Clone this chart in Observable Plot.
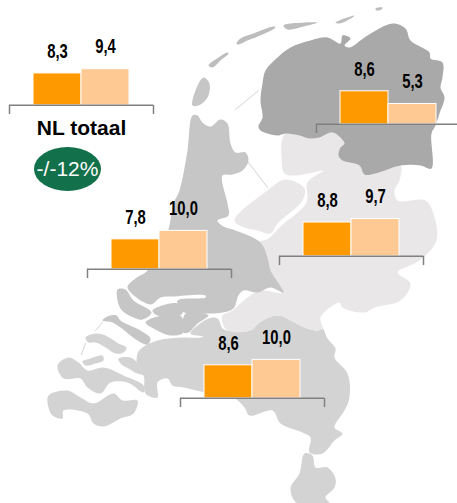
<!DOCTYPE html>
<html>
<head>
<meta charset="utf-8">
<script src="https://cdn.jsdelivr.net/npm/d3@7"></script>
<script src="https://cdn.jsdelivr.net/npm/@observablehq/plot@0.6"></script>
<style>
html,body{margin:0;padding:0;background:#fff;overflow:hidden}
#stage{position:relative;width:457px;height:503px;overflow:hidden;font-family:"Liberation Sans",Arial,sans-serif}
#stage>svg{position:absolute}
#badge{position:absolute;left:34px;top:147px;width:67px;height:44px;border-radius:50%;background:#12704a;color:#fff;font-size:21px;display:flex;align-items:center;justify-content:center;white-space:nowrap}
</style>
</head>
<body>
<div id="stage"></div>
<script>
// Bar values: [first series, second series]
const seriesNames = ["serie 1", "serie 2"];
const seriesColors = ["#ff9900", "#ffc993"];
const regionNames = ["NL totaal", "Noord", "Oost", "West", "Zuid"];
const valuesFirst  = [8.3, 8.6, 8.8, 7.8, 8.6];
const valuesSecond = [9.4, 5.3, 9.7, 10.0, 10.0];
const panelLeft = [9, 316, 279, 87, 180];
const panelBaseline = [105, 124, 256, 269, 398];
const badgeText = "-/-12%";

// Background map outlines
const colNoord = "#a9a9a9", colOost = "#e9e7e8", colWest = "#c6c6c6", colZuid = "#d3d3d3", colWad = "#bdbdbd";
const outlines = [
 [colZuid,[[217,318],[222,328],[227,330],[250,330],[259,322],[277,315],[304,327],[317,330],[322,328],[327,338],[335,348],[334,357],[347,373],[349,397],[344,410],[334,427],[342,433],[334,440],[322,453],[309,452],[310,437],[302,432],[280,423],[272,410],[249,415],[244,407],[230,395],[205,392],[183,387],[172,385],[167,378],[157,382],[157,397],[145,393],[143,375],[138,373],[137,353],[142,347],[157,340],[180,337],[200,337],[203,336],[190,333],[208,318]]],
 [colZuid,[[304,453],[312,455],[315,467],[327,467],[335,478],[334,487],[325,497],[329,503],[297,503],[290,488],[299,473]]],
 [colOost,[[285,133],[299,135],[309,138],[319,137],[330,132],[335,133],[344,143],[340,147],[338,155],[342,160],[359,165],[364,174],[375,173],[400,165],[399,180],[394,190],[397,200],[425,200],[434,217],[436,240],[423,257],[414,263],[397,272],[410,283],[400,300],[374,307],[364,312],[342,307],[339,302],[320,317],[322,328],[317,330],[304,327],[277,315],[259,322],[250,330],[227,330],[222,322],[222,315],[232,310],[247,297],[260,290],[282,292],[269,270],[264,250],[258,242],[268,238],[280,226],[306,202],[307,182],[323,170],[313,172],[293,175],[284,173],[281,157],[282,138]]],
 [colOost,[[234,220],[267,190],[285,179],[304,188],[302,200],[277,223],[270,233],[257,230],[244,227]]],
 [colWest,[[192,115],[197,115],[202,122],[210,126],[220,119],[227,123],[230,143],[235,152],[245,152],[248,160],[242,170],[232,174],[222,175],[227,203],[228,215],[217,220],[223,226],[235,230],[260,242],[267,257],[270,270],[283,292],[270,287],[257,292],[243,290],[238,295],[233,308],[222,312],[210,313],[182,311],[177,300],[205,297],[205,295],[172,296],[160,297],[150,304],[127,287],[135,278],[147,270],[167,232],[173,203],[179,190],[187,150]]],
 [colWest,[[117,289],[120,308],[133,317],[142,319],[151,312],[133,300],[125,289]]],
 [colWest,[[152,310],[177,303],[182,313],[157,315]]],
 [colWest,[[145,322],[157,316],[180,315],[183,332],[170,335],[153,328]]],
 [colWest,[[185,313],[208,315],[197,323],[188,332],[183,332]]],
 [colWest,[[102,320],[107,316],[116,315],[120,320],[140,330],[150,338],[147,344],[137,340],[120,327],[112,322]]],
 [colZuid,[[85,337],[95,333],[105,335],[118,343],[126,347],[123,352],[115,353],[105,347],[95,342],[88,342]]],
 [colZuid,[[90,358],[102,355],[103,360],[95,363],[85,365],[82,361]]],
 [colZuid,[[118,358],[130,357],[137,363],[138,373],[128,368],[120,363]]],
 [colZuid,[[57,365],[68,357],[78,362],[87,370],[103,367],[123,375],[143,385],[143,392],[127,382],[110,382],[100,393],[87,387],[80,378],[63,378]]],
 [colZuid,[[48,395],[67,390],[80,397],[93,403],[113,393],[122,400],[137,400],[133,413],[120,418],[103,426],[93,423],[87,413],[63,410],[62,418],[52,415],[48,407]]],
 [colWest,[[192,105],[195,90],[203,77],[209,83],[207,97],[198,105]]],
 [colWad,[[208,65],[218,57],[227,52],[228,53],[220,60],[212,67]]],
 [colWad,[[236,43],[240,38],[253,33],[273,26],[275,27],[262,34],[247,40],[238,44]]],
 [colWad,[[283,25],[290,23],[317,22],[303,26],[287,29]]],
 [colWad,[[335,22],[354,15],[352,17],[339,23]]],
 [colWad,[[375,8],[382,7],[381,9],[376,10]]],
 [colNoord,[[258,126],[262,117],[260,100],[262,83],[265,70],[277,57],[290,47],[310,40],[327,37],[340,43],[342,35],[350,38],[344,45],[349,47],[367,35],[392,23],[405,28],[410,40],[429,52],[430,58],[442,62],[442,77],[440,87],[444,97],[439,113],[435,125],[431,133],[431,168],[420,165],[400,165],[375,173],[364,174],[359,165],[342,160],[338,155],[340,147],[344,143],[335,133],[330,132],[319,137],[309,138],[299,135],[285,133],[277,135],[260,130]]]
];
const dikes = [
 [[235,109],[258,90]],
 [[248,162],[267,187]],
 [[95,330],[102,322]],
 [[81,354],[85,343]]
];

const stage = document.getElementById("stage");
const rows = outlines.flatMap(([color, pts], i) => pts.map(([x, y]) => ({id: i, color, x, y})));
const dikeRows = dikes.flatMap((pts, i) => pts.map(([x, y]) => ({id: i, x, y})));

const map = Plot.plot({
  width: 457, height: 503, margin: 0,
  style: {background: "transparent"},
  x: {domain: [0, 457], range: [0, 457], axis: null},
  y: {domain: [0, 503], range: [0, 503], axis: null},
  color: {type: "identity"},
  marks: [
    Plot.line(dikeRows, {x: "x", y: "y", z: "id", stroke: "#d4d4d4", strokeWidth: 1}),
    Plot.line(rows, {x: "x", y: "y", z: "id", fill: "color", stroke: "none", curve: "catmull-rom-closed"})
  ]
});
map.style.left = "0px"; map.style.top = "0px";
stage.appendChild(map);

const comma = v => v.toFixed(1).replace(".", ",");
const panelHeight = 120, zeroFromTop = 74;
const labelClass = "value-label";

regionNames.forEach((name, i) => {
  const data = [
    {series: seriesNames[0], pos: 0, value: valuesFirst[i]},
    {series: seriesNames[1], pos: 1, value: valuesSecond[i]}
  ];
  const marks = [
    Plot.rectY(data, {x1: "pos", x2: d => d.pos + 1, y: "value", fill: "series", stroke: "white", strokeWidth: 1}),
    Plot.ruleY([0], {stroke: "#808080", strokeWidth: 1.5}),
    Plot.ruleX([-0.5, 2.5], {y1: 0, y2: -2.4, stroke: "#808080", strokeWidth: 1.5}),
    Plot.text(data, {
      x: d => d.pos + 0.5, y: "value", text: d => comma(d.value), dy: -22,
      className: labelClass,
      fontFamily: "'Liberation Sans',Arial,sans-serif",
      fontWeight: "bold", fontSize: 19.5, fill: "black"
    })
  ];
  if (i === 0) marks.push(Plot.text([name], {
    x: 1, y: -6, text: d => d, fontWeight: "bold", fontSize: 21, fill: "black",
    fontFamily: "'Liberation Sans',Arial,sans-serif"
  }));
  const p = Plot.plot({
    width: 144, height: panelHeight, margin: 0,
    style: {background: "transparent", overflow: "visible"},
    x: {domain: [-0.5, 2.5], range: [0, 144], axis: null},
    y: {domain: [-12, 19.2], range: [panelHeight, 0], axis: null},
    color: {domain: seriesNames, range: seriesColors},
    marks
  });
  p.style.left = panelLeft[i] + "px";
  p.style.top = (panelBaseline[i] - zeroFromTop) + "px";
  stage.appendChild(p);
  // the reference's value labels are a condensed face: narrow the glyphs
  p.querySelectorAll("." + labelClass + " text").forEach(t => {
    t.setAttribute("textLength", (t.getComputedTextLength() * 0.76).toFixed(1));
    t.setAttribute("lengthAdjust", "spacingAndGlyphs");
  });
});

const badge = document.createElement("div");
badge.id = "badge";
badge.textContent = badgeText;
stage.appendChild(badge);
</script>
</body>
</html>
